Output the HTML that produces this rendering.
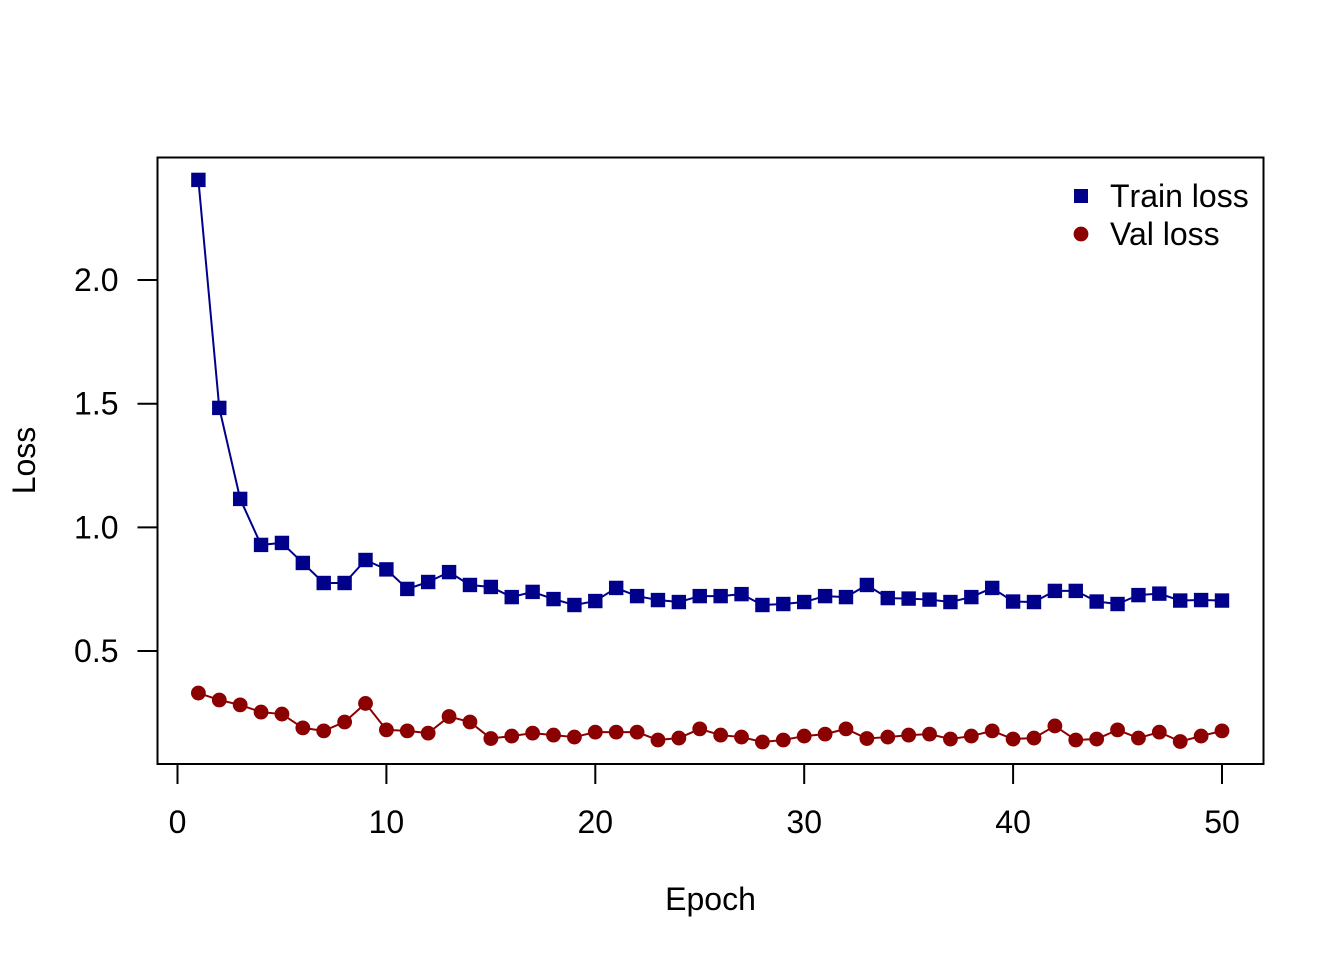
<!DOCTYPE html>
<html>
<head>
<meta charset="utf-8">
<title>Loss chart</title>
<style>
html,body{margin:0;padding:0;background:#fff;}
svg{display:block;}
text{font-family:"Liberation Sans",sans-serif;font-size:32px;fill:#000;font-kerning:none;}
text.kerned{font-kerning:normal;}
</style>
</head>
<body>
<svg id="chart" width="1344" height="960" viewBox="0 0 1344 960" xmlns="http://www.w3.org/2000/svg">
<rect width="1344" height="960" fill="#fff"/>
<g id="plot"></g>
<rect x="157.5" y="157.5" width="1106" height="606.5" fill="none" stroke="#000" stroke-width="2"/>
<g id="axes"></g>
<text x="710.5" y="910" text-anchor="middle">Epoch</text>
<text transform="translate(35,460.5) rotate(-90)" text-anchor="middle">Loss</text>
<g>
<rect x="1074" y="189" width="14" height="14" fill="#00008B"/>
<text x="1110" y="207">Train loss</text>
<circle cx="1081" cy="234" r="7.4" fill="#8B0000"/>
<text class="kerned" x="1110" y="245">Val loss</text>
</g>
</svg>
<script>
const trainLoss = [2.405,1.483,1.115,0.929,0.937,0.856,0.775,0.775,0.868,0.830,0.751,0.779,0.819,0.767,0.759,0.718,0.739,0.710,0.686,0.702,0.755,0.722,0.706,0.698,0.722,0.722,0.730,0.686,0.690,0.698,0.722,0.718,0.767,0.714,0.712,0.708,0.698,0.718,0.755,0.700,0.698,0.743,0.743,0.700,0.690,0.726,0.732,0.704,0.706,0.704];
const valLoss = [0.330,0.302,0.282,0.253,0.245,0.189,0.177,0.213,0.288,0.181,0.177,0.168,0.235,0.213,0.146,0.156,0.168,0.160,0.152,0.172,0.172,0.172,0.140,0.148,0.185,0.160,0.152,0.132,0.140,0.156,0.164,0.185,0.146,0.152,0.160,0.164,0.144,0.156,0.177,0.144,0.148,0.197,0.140,0.144,0.181,0.148,0.172,0.134,0.156,0.177];
const epochs = trainLoss.map((_, i) => i + 1);
const xTicks = [0,10,20,30,40,50];
const yTicks = [0.5,1.0,1.5,2.0];

const NS = 'http://www.w3.org/2000/svg';
const xScale = v => 177.5 + v * 20.89;
const yScale = v => 651 - (v - 0.5) * 247.3;
const plot = document.getElementById('plot');
const axes = document.getElementById('axes');

function make(tag, attrs, parent) {
  const el = document.createElementNS(NS, tag);
  for (const k in attrs) el.setAttribute(k, attrs[k]);
  parent.appendChild(el);
  return el;
}

function drawSeries(values, color, shape, seriesName) {
  const pts = values.map((v, i) => xScale(epochs[i]) + ',' + yScale(v)).join(' ');
  const line = make('polyline', {points: pts, fill: 'none', stroke: color, 'stroke-width': 2, 'stroke-linejoin': 'round'}, plot);
  
  
  values.forEach((v, i) => {
    const cx = xScale(epochs[i]);
    const cy = yScale(v);
    const m = shape === 'square'
      ? make('rect', {x: cx - 7.2, y: cy - 7.2, width: 14.4, height: 14.4, fill: color}, plot)
      : make('circle', {cx: cx, cy: cy, r: 7.4, fill: color}, plot);
    
    
  });
}

drawSeries(trainLoss, '#00008B', 'square', 'train-loss');
drawSeries(valLoss, '#8B0000', 'circle', 'val-loss');

xTicks.forEach(t => {
  const x = xScale(t);
  const tick = make('line', {x1: x, x2: x, y1: 764, y2: 784, stroke: '#000', 'stroke-width': 2}, axes);
  
  
  const label = make('text', {x: x, y: 833, 'text-anchor': 'middle'}, axes);
  
  
  label.textContent = String(t);
});

yTicks.forEach(t => {
  const y = yScale(t);
  const tick = make('line', {x1: 137.5, x2: 157.5, y1: y, y2: y, stroke: '#000', 'stroke-width': 2}, axes);
  
  
  const label = make('text', {x: 118.5, y: y + 11, 'text-anchor': 'end'}, axes);
  
  
  label.textContent = t.toFixed(1);
});
</script>
</body>
</html>
